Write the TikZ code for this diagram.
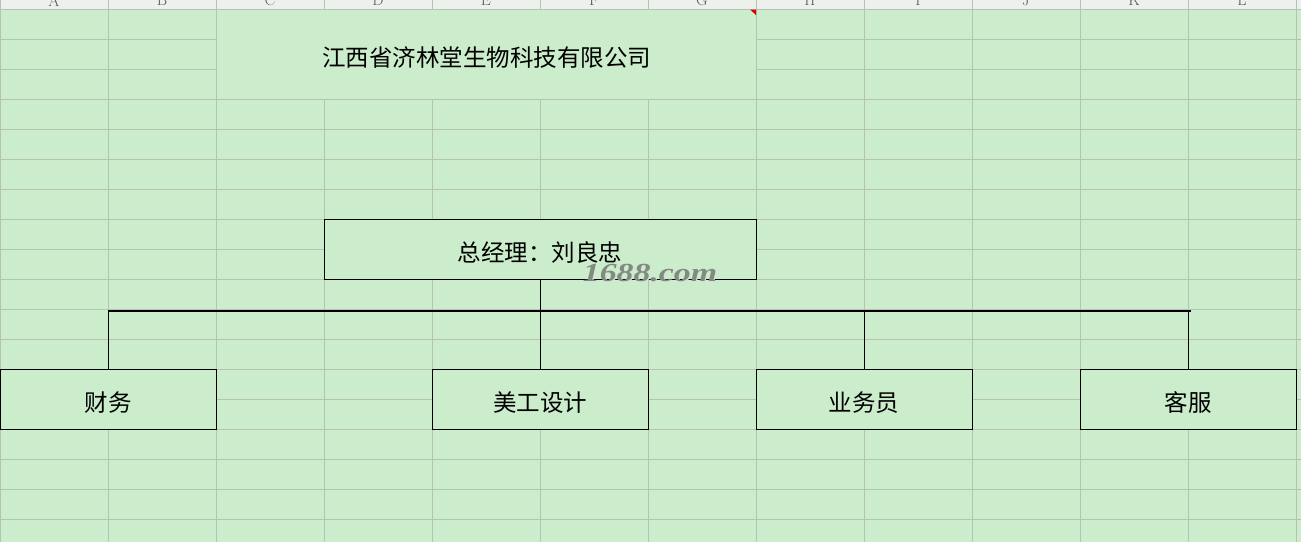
\documentclass[tikz,border=0pt]{standalone}
\usepackage{fontspec}
\newfontfamily\cjk{Noto Sans CJK SC}
\newfontfamily\wmfont{Liberation Serif}
\definecolor{bg}{RGB}{204,237,204}
\definecolor{gridc}{RGB}{182,194,182}
\definecolor{hdr}{RGB}{238,240,238}
\definecolor{hdrtext}{RGB}{90,90,90}
\definecolor{wmgray}{RGB}{128,140,128}
\definecolor{wmlight}{RGB}{215,225,215}
\begin{document}
\begin{tikzpicture}[x=1pt,y=-1pt,
  gridline/.style={draw=gridc, line width=0.8pt},
  orgbox/.style={draw=black, line width=0.9pt, fill=bg, minimum height=60pt, inner sep=0pt,
    font=\cjk\fontsize{23.5}{23.5}\selectfont, text height=26pt, text depth=2pt},
  titletext/.style={inner sep=0pt, font=\cjk\fontsize{23.5}{23.5}\selectfont},
  link/.style={draw=black, line width=0.9pt},
  bus/.style={draw=black, line width=2pt},
  colhead/.style={inner sep=0pt, text=hdrtext, font=\fontsize{16}{16}\selectfont},
  wmark/.style={inner sep=0pt, xscale=1.3, font=\wmfont\bfseries\itshape\fontsize{26}{26}\selectfont}]
\clip (0,0) rectangle (1301,542);
\useasboundingbox (0,0) rectangle (1301,542);
\fill[bg] (0,0) rectangle (1301,542);
% grid
\foreach \x in {0,108,...,1296} \draw[gridline] (\x,0) -- (\x,542);
\foreach \y in {9,39,...,549} \draw[gridline] (0,\y) -- (1301,\y);
% merged title cell C1:G3
\fill[bg] (216.5,9.5) rectangle (755.5,98.5);
% header band
\fill[hdr] (0,0) rectangle (1301,8.6);
\foreach \x in {0,108,...,1296} \draw[gridline] (\x,0) -- (\x,9);
\foreach \c [count=\i from 0] in {A,B,C,D,E,F,G,H,I,J,K,L}
  \node[colhead] (h\c) at (54+108*\i,0.5) {\c};
\fill[red!85!black] (750,9.5) -- (756,9.5) -- (756,15) -- cycle;
% title
\node[titletext] (title) at (486.5,57.5) {江西省济林堂生物科技有限公司};
% boxes
\node[orgbox, minimum width=432pt] (gm) at (540,249) {总经理：刘良忠};
\node[orgbox, minimum width=216pt] (cw) at (108,399) {财务};
\node[orgbox, minimum width=216pt] (mg) at (540,399) {美工设计};
\node[orgbox, minimum width=216pt] (yw) at (864,399) {业务员};
\node[orgbox, minimum width=216pt] (kf) at (1188,399) {客服};
% bus
\coordinate (busL) at (108,310.5);
\coordinate (busR) at (1191,310.5);
\draw[bus] (busL) -- (busR);
\draw[link] (gm.south) -- (gm.south |- busL);
\foreach \n in {cw,mg,yw,kf}
  \draw[link] (\n.north) -- (\n.north |- busL);
% watermark
\node[wmark, text=wmlight] (wmshadow) at (651,274) {1688.com};
\node[wmark, text=wmgray] (wm) at (650,273.5) {1688.com};
\end{tikzpicture}
\end{document}
